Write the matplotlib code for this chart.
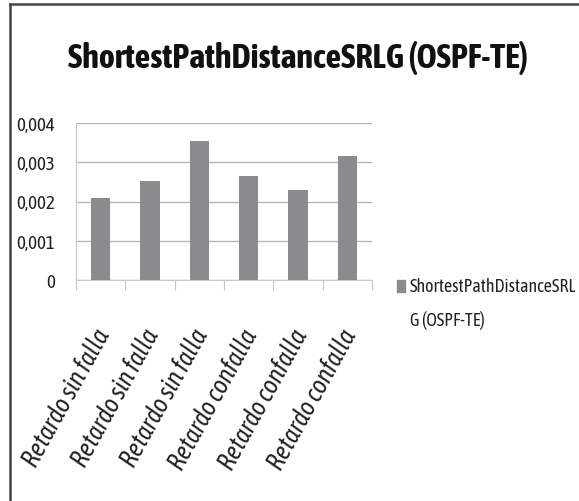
import matplotlib
matplotlib.use("Agg")
import matplotlib.pyplot as plt
from matplotlib.patches import Rectangle
from matplotlib.lines import Line2D
import numpy as np

categories = ["Retardo sin falla", "Retardo sin falla", "Retardo sin falla",
              "Retardo confalla", "Retardo confalla", "Retardo confalla"]
values = [0.00209, 0.00252, 0.00353, 0.00264, 0.00229, 0.00317]
yticks = [0, 0.001, 0.002, 0.003, 0.004]
ytick_labels = ["0", "0,001", "0,002", "0,003", "0,004"]
series_name = "ShortestPathDistanceSRLG (OSPF-TE)"

W, H = 579, 502
fig = plt.figure(figsize=(W/100, H/100), dpi=100)
fam = ["Asap Condensed", "Lato", "DejaVu Sans"]
renderer = fig.canvas.get_renderer()


def fit(t, target):
    fs = t.get_fontsize()
    w = t.get_window_extent(renderer).width
    t.set_fontsize(fs * target / w)


ax = fig.add_axes([76/W, 1-281/H, (372-76)/W, (281-124)/H])
x = np.arange(len(categories))
ax.bar(x, values, width=0.39, color="#8b8b8d", zorder=3)
ax.set_xlim(-0.5, len(categories)-0.5)
ax.set_ylim(0, 0.004)
ax.set_yticks(yticks)
ax.set_yticklabels(ytick_labels, fontsize=13, family=fam, color="#222222")
ax.grid(axis="y", color="#b5b5b5", lw=1, zorder=0)
for s in ["top", "right"]:
    ax.spines[s].set_visible(False)
ax.spines["left"].set_color("#c8c8c8")
ax.spines["bottom"].set_color("#c8c8c8")
ax.tick_params(axis="y", length=0, pad=15)
ax.set_xticks(np.arange(-0.5, len(categories)))
ax.set_xticklabels([])
ax.tick_params(axis="x", length=7, color="#c8c8c8", direction="out")
fsy = 13
for t in ax.get_yticklabels():
    if t.get_text() == "0,004":
        fit(t, 39)
        fsy = t.get_fontsize()
for t in ax.get_yticklabels():
    t.set_fontsize(fsy)

fsx = 12
for i, c in enumerate(categories):
    t = ax.text(i + 0.06, -0.00127, c, rotation=61, ha="right", va="center",
                rotation_mode="anchor", fontsize=12.5, style="italic",
                family=fam, color="#222222", transform=ax.transData)
    if i == 0:
        t.set_rotation(0)
        fit(t, 154)
        fsx = t.get_fontsize()
        t.set_rotation(61)
    t.set_fontsize(fsx)

tt = fig.text(298/W, 1-58/H, series_name, ha="center", va="center",
              fontsize=25, fontweight="bold", family=fam, color="#111111")
fit(tt, 460)

fig.patches.append(Rectangle((397/W, 1-293/H), 8/W, 12/H,
                             transform=fig.transFigure, color="#8b8b8d"))
lt = fig.text(410/W, 1-287/H, "ShortestPathDistanceSRL", ha="left", va="center",
              fontsize=12.5, family=fam, color="#222222")
fit(lt, 166)
fig.text(410/W, 1-321/H, "G (OSPF-TE)", ha="left", va="center",
         fontsize=lt.get_fontsize(), family=fam, color="#222222")

fig.add_artist(Line2D([10/W, 1], [1-5/H, 1-5/H], transform=fig.transFigure,
                      color="#444444", lw=1.8))
fig.add_artist(Line2D([10/W, 10/W], [0, 1-5/H], transform=fig.transFigure,
                      color="#444444", lw=1.8))

fig.savefig("out.png", dpi=100)
